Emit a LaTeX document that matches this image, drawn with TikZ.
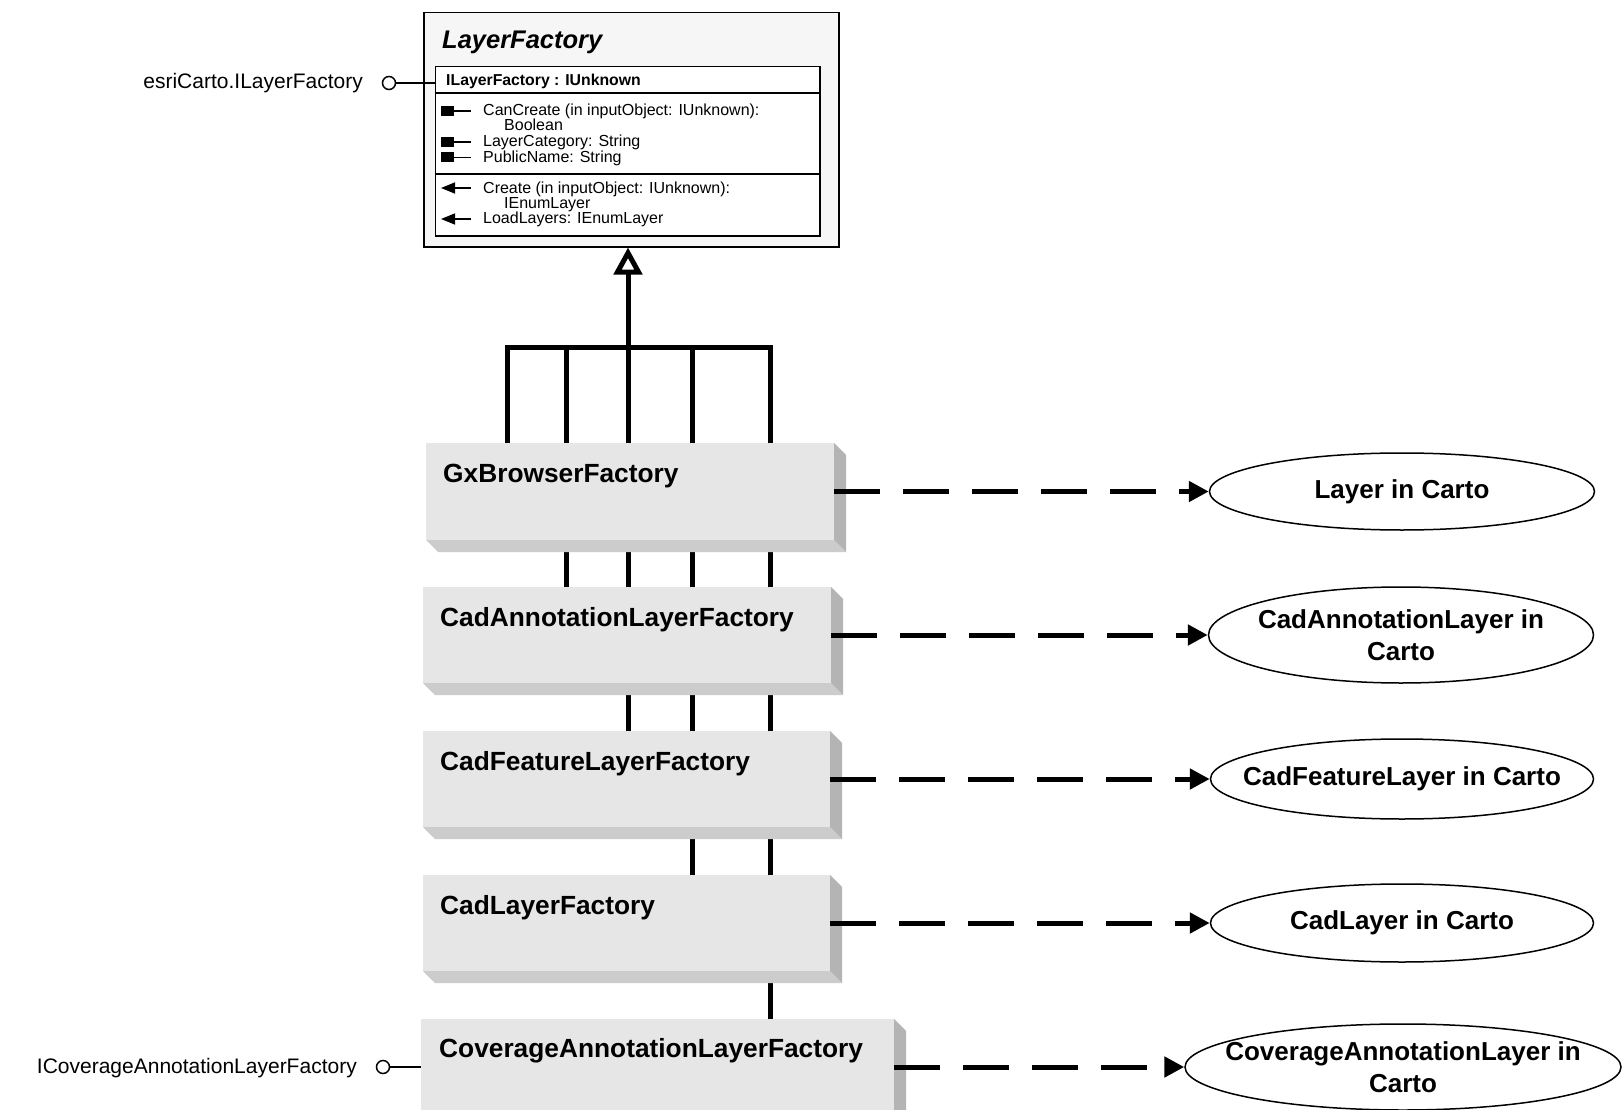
\documentclass[tikz,border=0pt]{standalone}
\usepackage{fontspec}
\setmainfont{Liberation Sans}
\usetikzlibrary{arrows.meta,calc,backgrounds,shapes.geometric}
\definecolor{face}{HTML}{E6E6E6}
\definecolor{shb}{HTML}{CCCCCC}
\definecolor{shr}{HTML}{B4B4B4}
\definecolor{lfill}{HTML}{F6F6F6}
\newcommand\boxshadow[1]{%
  \fill[shb] (#1.south west) -- (#1.south east) -- ++(12,12) -- ($(#1.south west)+(12,12)$) -- cycle;
  \fill[shr] (#1.north east) -- ++(12,12) -- ($(#1.south east)+(12,12)$) -- (#1.south east) -- cycle;}
\begin{document}
\begin{tikzpicture}[x=1pt,y=-1pt,
  facebox/.style={fill=face,draw=none,anchor=north west,inner sep=0pt,outer sep=0pt},
  lbl/.style={anchor=base west,inner sep=0pt,font=\bfseries\fontsize{26.3}{30}\selectfont},
  mem/.style={anchor=base west,inner sep=0pt,font=\fontsize{16}{15}\selectfont},
  iface/.style={anchor=base east,inner sep=0pt,font=\fontsize{21}{24}\selectfont},
  ell/.style={ellipse,draw,line width=1.5pt,inner sep=0pt,fill=white},
  etxt/.style={inner sep=0pt,align=center,font=\bfseries\fontsize{26}{32}\selectfont},
  gl/.style={line width=5pt},
  dep/.style={line width=5pt,dash pattern=on 46pt off 23pt,-{Triangle[length=20pt,width=20pt]}},
  lol/.style={circle,draw,line width=1.5pt,minimum size=13pt,inner sep=0pt,fill=white}]
\useasboundingbox (0,0) rectangle (1622,1110);
\clip (0,0) rectangle (1622,1110);
\begin{scope}[on background layer]
\fill[white] (0,0) rectangle (1622,1110);
\end{scope}

% LayerFactory class
\node[draw,fill=lfill,line width=1.5pt,anchor=north west,inner sep=0pt,minimum width=415pt,minimum height=234pt] (lf) at (423,12) {};
\node[draw,fill=white,line width=1.5pt,anchor=north west,inner sep=0pt,minimum width=384.5pt,minimum height=169pt] (inner) at (434.5,66) {};
\draw[line width=1.3pt] (434.5,93) -- (819,93);
\draw[line width=1.3pt] (434.5,174) -- (819,174);
\node[anchor=base west,inner sep=0pt,font=\bfseries\itshape\fontsize{25.5}{30}\selectfont] (lft) at (442,48.5) {LayerFactory};
\node[anchor=base west,inner sep=0pt,font=\bfseries\fontsize{15.8}{18}\selectfont] (hdr) at (446,86) {ILayerFactory : IUnknown};
\foreach \yy in {111,142,157.5}{
  \fill (441,\yy-5) rectangle (454,\yy+5);
  \draw[line width=1.5pt] (454,\yy) -- (471,\yy);}
\draw[line width=1.5pt,-{Triangle[length=14pt,width=11pt]}] (471,188) -- (441,188);
\draw[line width=1.5pt,-{Triangle[length=14pt,width=11pt]}] (471,219) -- (441,219);
\node[mem] (m1) at (483,116) {CanCreate (in inputObject: IUnknown):};
\node[mem] (m2) at (504,131) {Boolean};
\node[mem] (m3) at (483,147) {LayerCategory: String};
\node[mem] (m4) at (483,162.5) {PublicName: String};
\node[mem] (m5) at (483,193.5) {Create (in inputObject: IUnknown):};
\node[mem] (m6) at (504,208.5) {IEnumLayer};
\node[mem] (m7) at (483,224) {LoadLayers: IEnumLayer};

\node[lol] (c1) at (389,83) {};
\draw[line width=1.5pt] (c1) -- (c1 -| inner.west);
\node[iface] (i1) at (363,89) {esriCarto.ILayerFactory};

% subclass boxes
\node[facebox,minimum width=408pt,minimum height=97pt] (gx) at (426,443) {};
\node[facebox,minimum width=408pt,minimum height=96pt] (ca) at (423,587) {};
\node[facebox,minimum width=407pt,minimum height=96pt] (cf) at (423,731) {};
\node[facebox,minimum width=407pt,minimum height=96pt] (cl) at (423,875) {};
\node[facebox,minimum width=473pt,minimum height=96pt] (cov) at (421,1019) {};
\boxshadow{gx}\boxshadow{ca}\boxshadow{cf}\boxshadow{cl}\boxshadow{cov}
\node[lbl] (gxt) at (443,482) {GxBrowserFactory};
\node[lbl] (cat) at (440,626) {CadAnnotationLayerFactory};
\node[lbl] (cft) at (440,770) {CadFeatureLayerFactory};
\node[lbl] (clt) at (440,914) {CadLayerFactory};
\node[lbl] (covt) at (439,1057) {CoverageAnnotationLayerFactory};

% generalization tree
\coordinate (b1) at (507,347);
\coordinate (b2) at (566,347);
\coordinate (b3) at (628,347);
\coordinate (b4) at (692,347);
\coordinate (b5) at (770,347);
\begin{scope}[on background layer]
\draw[gl] (b1 |- gx.north) -- (b1) -- (b5) -- (b5 |- cov.north);
\draw[gl] (b2) -- (b2 |- ca.north);
\draw[gl] (b3) -- (b3 |- cf.north);
\draw[gl] (b4) -- (b4 |- cl.north);
\end{scope}
\draw[gl,-{Triangle[open,length=27pt,width=28pt]}] (b3) -- (b3 |- lf.south);

% coverage interface
\node[lol] (c2) at (383,1067) {};
\draw[line width=1.5pt] (c2) -- (c2 -| cov.west);
\node[iface] (i2) at (357,1073) {ICoverageAnnotationLayerFactory};

% ellipses
\node[ell,minimum width=385pt,minimum height=77pt] (e1) at (1402,491.5) {};
\node[ell,minimum width=385pt,minimum height=96pt] (e2) at (1401,635) {};
\node[ell,minimum width=383pt,minimum height=80pt] (e3) at (1402,779) {};
\node[ell,minimum width=383pt,minimum height=78pt] (e4) at (1402,923) {};
\node[ell,minimum width=436pt,minimum height=86pt] (e5) at (1403,1067) {};
\node[etxt] (e1t) at (e1) {Layer in Carto};
\node[etxt] (e2t) at (e2) {CadAnnotationLayer in\\Carto};
\node[etxt] (e3t) at (e3) {CadFeatureLayer in Carto};
\node[etxt] (e4t) at (e4) {CadLayer in Carto};
\node[etxt] (e5t) at (e5) {CoverageAnnotationLayer in\\Carto};

\draw[dep] (gx.east) -- (e1);
\draw[dep] (ca.east) -- (e2);
\draw[dep] (cf.east) -- (e3);
\draw[dep] (cl.east) -- (e4);
\draw[dep] (cov.east) -- (e5);
\end{tikzpicture}
\end{document}
